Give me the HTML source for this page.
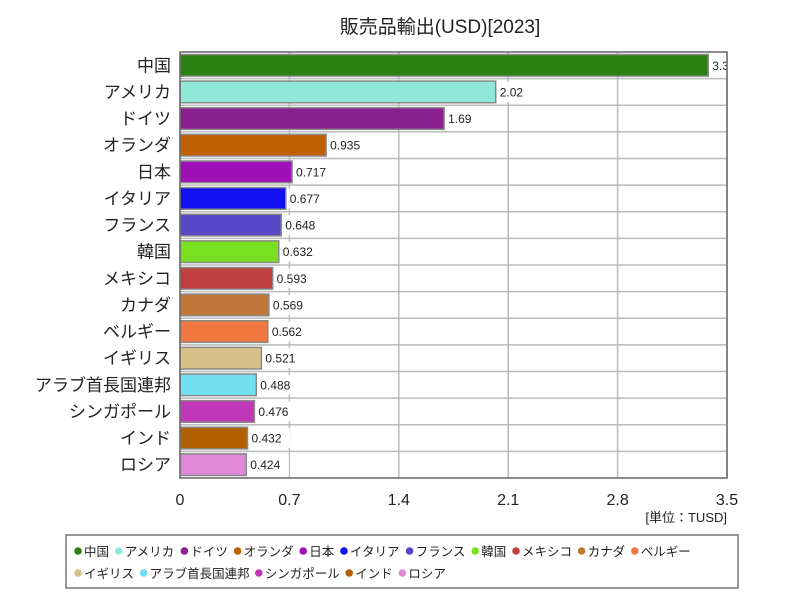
<!DOCTYPE html>
<html><head><meta charset="utf-8"><style>
body{margin:0;background:#fff;}
svg text{font-family:"Liberation Sans","Noto Sans CJK JP",sans-serif;}
</style></head><body>
<svg id="c" width="800" height="600" xmlns="http://www.w3.org/2000/svg">
<text x="440" y="33" font-size="19" text-anchor="middle" fill="#222">販売品輸出(USD)[2023]</text>
<defs><clipPath id="pc"><rect x="180" y="52" width="547" height="426"/></clipPath></defs>
<g id="grid"></g><g id="bars" clip-path="url(#pc)"></g><g id="ylab"></g><g id="xlab"></g>
<rect x="180" y="52" width="547" height="426" fill="none" stroke="#666" stroke-width="1.5"/>
<text x="727" y="522" font-size="13" text-anchor="end" fill="#222">[単位：TUSD]</text>
<rect x="66" y="535" width="672" height="53" fill="#fff" stroke="#777" stroke-width="1.5"/>
<g id="leg"></g>
</svg>
<script>
const categories=["中国","アメリカ","ドイツ","オランダ","日本","イタリア","フランス","韓国","メキシコ","カナダ","ベルギー","イギリス","アラブ首長国連邦","シンガポール","インド","ロシア"];
const values=[3.38,2.02,1.69,0.935,0.717,0.677,0.648,0.632,0.593,0.569,0.562,0.521,0.488,0.476,0.432,0.424];
const valueLabels=["3.38","2.02","1.69","0.935","0.717","0.677","0.648","0.632","0.593","0.569","0.562","0.521","0.488","0.476","0.432","0.424"];
const colors=["#2a8010","#90e8d8","#8a2090","#c06000","#a010b8","#1010f0","#5848c8","#78e020","#c04040","#c07838","#f07840","#d8c088","#70e0f0","#c038b8","#b06000","#e088d8"];
const ticks=[0,0.7,1.4,2.1,2.8,3.5];
const tickLabels=["0","0.7","1.4","2.1","2.8","3.5"];
const NS="http://www.w3.org/2000/svg";
const X0=180,W=547,Y0=52,H=426,MAX=3.5;
const xs=v=>X0+v/MAX*W;
const step=H/categories.length;
function mk(t,a,p){const e=document.createElementNS(NS,t);for(const k in a)e.setAttribute(k,a[k]);p.appendChild(e);return e;}
const grid=document.getElementById('grid'),bars=document.getElementById('bars'),yl=document.getElementById('ylab'),xl=document.getElementById('xlab'),leg=document.getElementById('leg');
ticks.forEach((t,i)=>{
  const l=mk('line',{x1:xs(t),x2:xs(t),y1:Y0,y2:Y0+H,stroke:'#bbb','stroke-width':1.5},grid);
  
  
  const tx=mk('text',{x:xs(t),y:505,'font-size':16,'text-anchor':'middle',fill:'#222'},xl);
  tx.textContent=tickLabels[i];
  
  
});
for(let i=1;i<categories.length;i++){
  const l=mk('line',{x1:X0,x2:X0+W,y1:Y0+i*step,y2:Y0+i*step,stroke:'#bbb','stroke-width':1.5},grid);
  
  
}
categories.forEach((c,i)=>{
  const y=Y0+i*step+2.5,h=step-5;
  const r=mk('rect',{x:X0,y:y,width:xs(values[i])-X0,height:h,fill:colors[i],stroke:'#888','stroke-width':1.5},bars);
  
  
  const lb=mk('rect',{x:xs(values[i])+1,y:y+1,width:valueLabels[i].length*7.5+4,height:h-2,fill:'#fff'},bars);
  
  
  const vt=mk('text',{x:xs(values[i])+4,y:y+h/2+4.5,'font-size':12,fill:'#222'},bars);
  vt.textContent=valueLabels[i];
  
  
  const ct=mk('text',{x:171,y:Y0+i*step+step/2+6,'font-size':17,'text-anchor':'end',fill:'#222'},yl);
  ct.textContent=c;
  
  
});
let lx=74,ly=551;
categories.forEach((c,i)=>{
  const w=c.length*12.4+16;
  if(lx+w>736){lx=74;ly+=22;}
  const d=mk('circle',{cx:lx+4,cy:ly,r:3.8,fill:colors[i]},leg);
  
  
  const t=mk('text',{x:lx+10,y:ly+5,'font-size':12.5,fill:'#222'},leg);
  t.textContent=c;
  
  
  lx+=w;
});
</script>
</body></html>
